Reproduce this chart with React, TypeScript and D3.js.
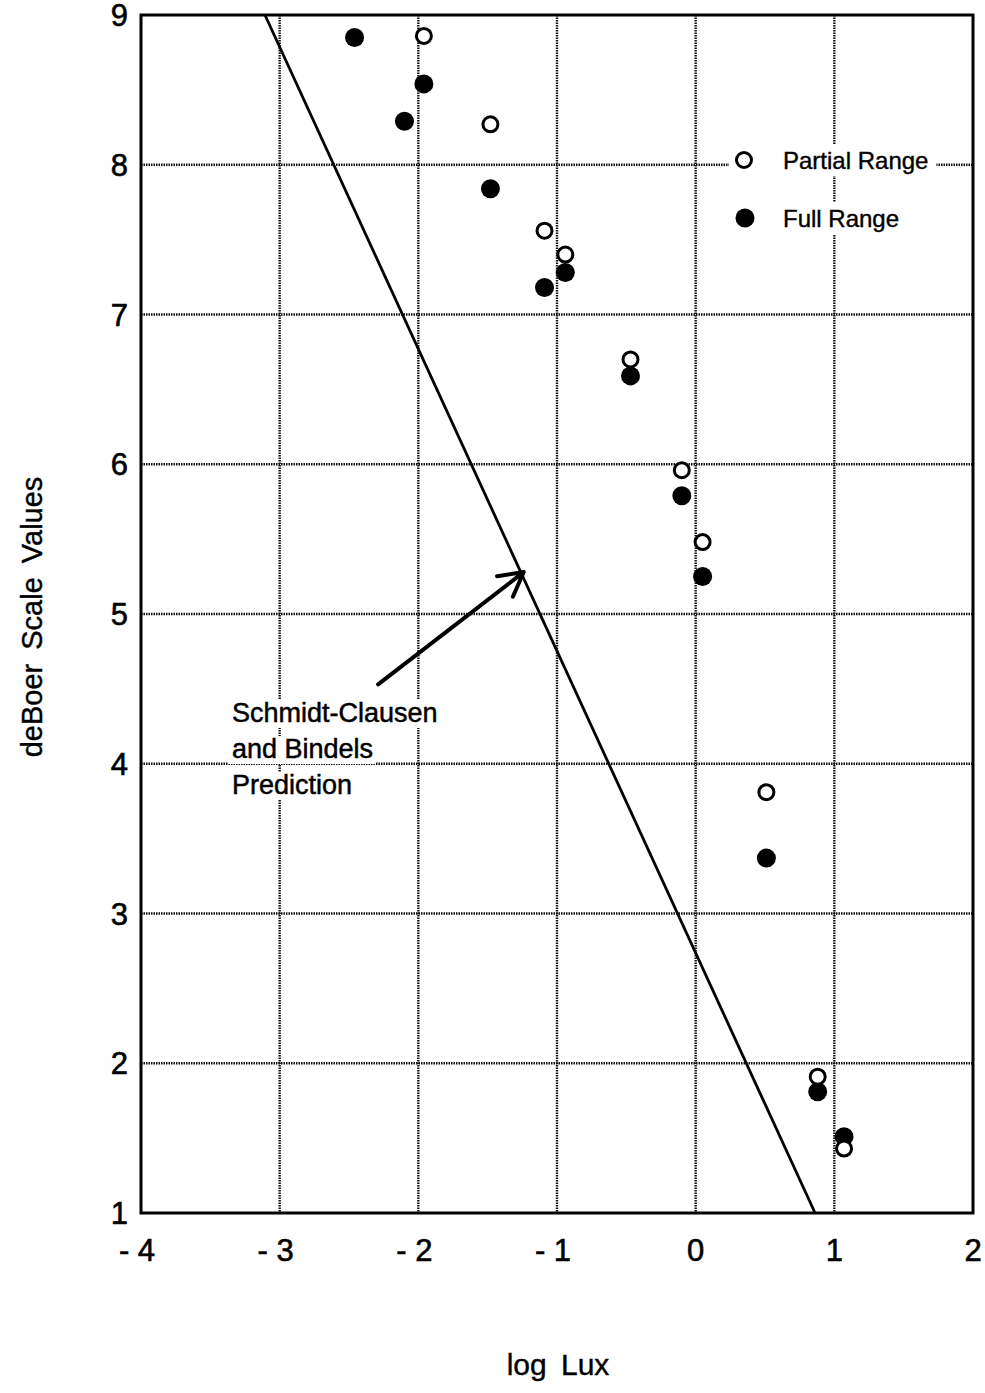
import React, { useEffect, useRef } from 'react';
import * as d3 from 'd3';

// log Lux vs deBoer values
const partialX = [-1.96, -1.48, -1.09, -0.94, -0.47, -0.1, 0.05, 0.51, 0.88, 1.07];
const partialY = [8.86, 8.27, 7.56, 7.4, 6.7, 5.96, 5.48, 3.81, 1.91, 1.43];
const fullX = [-2.46, -1.96, -2.1, -1.48, -1.09, -0.94, -0.47, -0.1, 0.05, 0.51, 0.88, 1.07];
const fullY = [8.85, 8.54, 8.29, 7.84, 7.18, 7.28, 6.59, 5.79, 5.25, 3.37, 1.81, 1.51];
// Schmidt-Clausen and Bindels prediction line
const predX = [-3.106, 0.861];
const predY = [9, 1];
const arrowX = [-2.29, -1.24];
const arrowY = [4.53, 5.28];
const xTicks = [-4, -3, -2, -1, 0, 1, 2];
const yTicks = [1, 2, 3, 4, 5, 6, 7, 8, 9];
const noteLines = ['Schmidt-Clausen', 'and Bindels', 'Prediction'];
const legendLabels = ['Partial Range', 'Full Range'];

const W = 985;
const H = 1393;
const margin = { top: 15, right: 12, bottom: 180, left: 141 };
const FONT = '"Liberation Sans", Arial, Helvetica, sans-serif';

const App: React.FC = () => {
  const svgRef = useRef<SVGSVGElement | null>(null);

  useEffect(() => {
    const svg = d3.select(svgRef.current);
    svg.selectAll('*').remove();

    const x = d3.scaleLinear().domain([-4, 2]).range([margin.left, W - margin.right]);
    const y = d3.scaleLinear().domain([1, 9]).range([H - margin.bottom, margin.top]);

    svg.append('rect').attr('width', W).attr('height', H).attr('fill', '#fff');

    // grid (dotted, like the scanned original)
    const grid = svg.append('g').attr('stroke', '#111').attr('stroke-width', 2.4).attr('stroke-dasharray', '1.5,1');
    grid.selectAll('line.v')
      .data(xTicks.slice(1, -1))
      .join('line')
      .attr('x1', d => x(d)).attr('x2', d => x(d))
      .attr('y1', y(9)).attr('y2', y(1));
    grid.selectAll('line.h')
      .data(yTicks.slice(1, -1))
      .join('line')
      .attr('x1', x(-4)).attr('x2', x(2))
      .attr('y1', d => y(d)).attr('y2', d => y(d));

    // note text with white backing that breaks the grid
    const note = svg.append('g');
    noteLines.forEach((t, i) => {
      const txt = note.append('text')
        .attr('x', 232)
        .attr('y', 722 + i * 36)
        .attr('font-family', FONT)
        .attr('font-size', 27)
        .attr('fill', '#000')
        .attr('stroke', '#000')
        .attr('stroke-width', 0.5)
        .text(t);
      const bb = (txt.node() as SVGTextElement).getBBox();
      note.insert('rect', 'text')
        .attr('x', bb.x - 4).attr('y', bb.y + 2)
        .attr('width', bb.width + 6).attr('height', bb.height - 2)
        .attr('fill', '#fff');
    });

    // legend
    const legend = svg.append('g');
    legendLabels.forEach((t, i) => {
      const cy = 160 + i * 58;
      const txt = legend.append('text')
        .attr('x', 783)
        .attr('y', cy + 9)
        .attr('font-family', FONT)
        .attr('font-size', 24)
        .attr('fill', '#000')
        .attr('stroke', '#000')
        .attr('stroke-width', 0.4)
        .text(t);
      const bb = (txt.node() as SVGTextElement).getBBox();
      legend.insert('rect', 'text')
        .attr('x', 729).attr('y', cy - 16)
        .attr('width', bb.x + bb.width - 729 + 8).attr('height', 32)
        .attr('fill', '#fff');
      if (i === 0) {
        legend.append('circle').attr('cx', 744).attr('cy', cy).attr('r', 7.5)
          .attr('fill', '#fff').attr('stroke', '#000').attr('stroke-width', 3);
      } else {
        legend.append('circle').attr('cx', 745).attr('cy', cy).attr('r', 9.5).attr('fill', '#000');
      }
    });

    // prediction line
    const line = d3.line<number>().x(i => x(predX[i])).y(i => y(predY[i]));
    svg.append('path')
      .attr('d', line([0, 1]))
      .attr('fill', 'none')
      .attr('stroke', '#000')
      .attr('stroke-width', 2.8);

    // arrow
    const ax0 = x(arrowX[0]), ay0 = y(arrowY[0]);
    const ax1 = x(arrowX[1]), ay1 = y(arrowY[1]);
    const ang = Math.atan2(ay1 - ay0, ax1 - ax0);
    const hl = 27, spread = 0.5;
    svg.append('path')
      .attr('d', `M${ax0},${ay0}L${ax1},${ay1}` +
        `M${ax1 - hl * Math.cos(ang - spread)},${ay1 - hl * Math.sin(ang - spread)}L${ax1},${ay1}` +
        `L${ax1 - hl * Math.cos(ang + spread)},${ay1 - hl * Math.sin(ang + spread)}`)
      .attr('fill', 'none')
      .attr('stroke', '#000')
      .attr('stroke-width', 4)
      .attr('stroke-linecap', 'round')
      .attr('stroke-linejoin', 'round');

    // points
    svg.append('g').selectAll('circle')
      .data(fullX.map((v, i) => [v, fullY[i]]))
      .join('circle')
      .attr('cx', d => x(d[0])).attr('cy', d => y(d[1]))
      .attr('r', 9.5).attr('fill', '#000');
    svg.append('g').selectAll('circle')
      .data(partialX.map((v, i) => [v, partialY[i]]))
      .join('circle')
      .attr('cx', d => x(d[0])).attr('cy', d => y(d[1]))
      .attr('r', 7.5).attr('fill', '#fff')
      .attr('stroke', '#000').attr('stroke-width', 3);

    // frame
    svg.append('rect')
      .attr('x', x(-4)).attr('y', y(9))
      .attr('width', x(2) - x(-4)).attr('height', y(1) - y(9))
      .attr('fill', 'none').attr('stroke', '#000').attr('stroke-width', 3);

    // tick labels
    svg.append('g').selectAll('text')
      .data(yTicks)
      .join('text')
      .attr('x', 128)
      .attr('y', d => y(d) + 11)
      .attr('text-anchor', 'end')
      .attr('font-family', FONT)
      .attr('font-size', 31)
      .attr('stroke', '#000')
      .attr('stroke-width', 0.6)
      .text(d => String(d));
    svg.append('g').selectAll('text')
      .data(xTicks)
      .join('text')
      .attr('x', d => x(d) - (d < 0 ? 4 : 0))
      .attr('y', 1261)
      .attr('text-anchor', 'middle')
      .attr('font-family', FONT)
      .attr('font-size', 31)
      .attr('stroke', '#000')
      .attr('stroke-width', 0.6)
      .text(d => (d < 0 ? `- ${Math.abs(d)}` : String(d)));

    // axis titles
    svg.append('text')
      .attr('transform', `translate(42,617) rotate(-90)`)
      .attr('text-anchor', 'middle')
      .attr('font-family', FONT)
      .attr('font-size', 29)
      .attr('word-spacing', 6)
      .attr('stroke', '#000')
      .attr('stroke-width', 0.4)
      .text('deBoer Scale Values');
    svg.append('text')
      .attr('x', 558)
      .attr('y', 1375)
      .attr('text-anchor', 'middle')
      .attr('font-family', FONT)
      .attr('font-size', 30)
      .attr('word-spacing', 6)
      .attr('stroke', '#000')
      .attr('stroke-width', 0.4)
      .text('log Lux');
  }, []);

  return (
    <svg
      ref={svgRef}
      width={W}
      height={H}
      style={{ position: 'absolute', left: 0, top: 0 }}
    />
  );
};

export default App;
